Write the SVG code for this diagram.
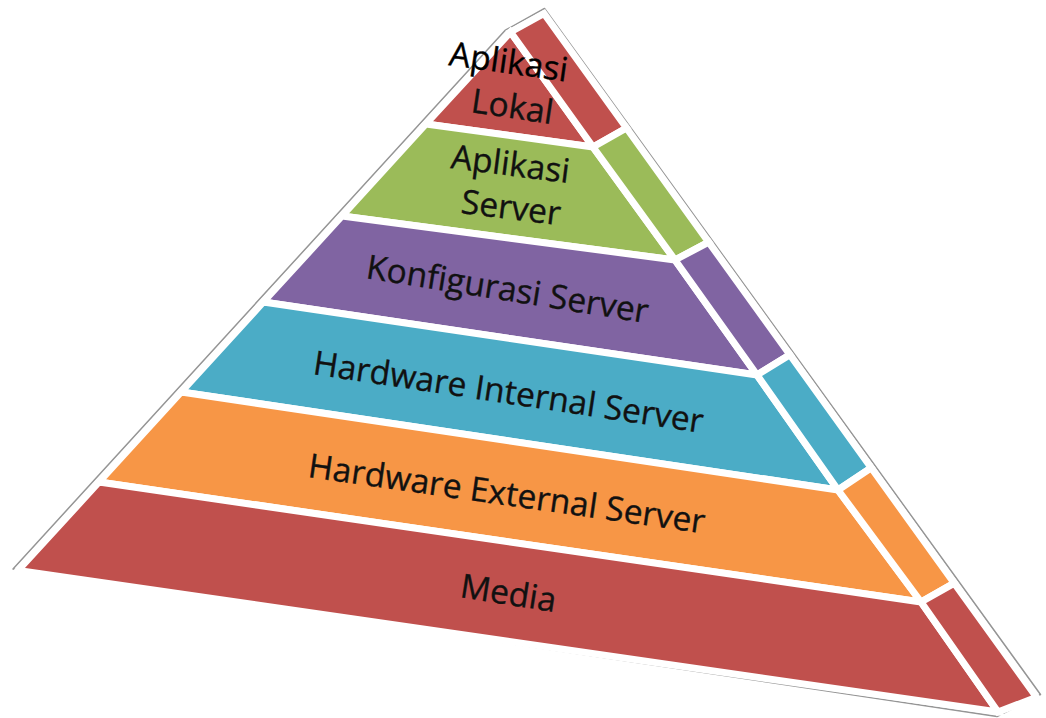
<svg xmlns="http://www.w3.org/2000/svg" width="1046" height="718" viewBox="0 0 1046 718">
<style>
.band{stroke:#ffffff;stroke-width:7;stroke-linejoin:miter}
.red{fill:#C0504D}
.green{fill:#9BBB59}
.purple{fill:#8064A2}
.cyan{fill:#4BACC6}
.orange{fill:#F79646}
.lbl{font-family:"Open Sans","Liberation Sans",sans-serif;font-size:33.5px;fill:#111111;stroke:#111111;stroke-width:0.35}
.outline{fill:#ffffff;stroke:#959595;stroke-width:1.5;stroke-linejoin:round}
</style>
<rect width="1046" height="718" fill="#ffffff"/>
<g id="outline">
<polygon class="outline" points="505,30.5 544.5,8.5 1040.5,694.5 997,716.5 13,569"/>
</g>
<g id="layer-aplikasi-lokal">
<polygon class="band red" points="510.5,32 593,147 425.9,124"/>
<polygon class="band red" points="510.5,32 544,13.5 626.5,128 593,147"/>
</g>
<g id="layer-aplikasi-server">
<polygon class="band green" points="425.9,124 593,147 675,260 342,216"/>
<polygon class="band green" points="593,147 626.5,128 708.7,242.1 675,260"/>
</g>
<g id="layer-konfigurasi-server">
<polygon class="band purple" points="342,216 675,260 757,375 263.3,302"/>
<polygon class="band purple" points="675,260 708.7,242.1 789.9,354.8 757,375"/>
</g>
<g id="layer-hardware-internal">
<polygon class="band cyan" points="263.3,302 757,375 838,490 181.2,392"/>
<polygon class="band cyan" points="757,375 789.9,354.8 871.2,467.8 838,490"/>
</g>
<g id="layer-hardware-external">
<polygon class="band orange" points="181.2,392 838,490 921,602 99,482"/>
<polygon class="band orange" points="838,490 871.2,467.8 954.3,583.1 921,602"/>
</g>
<g id="layer-media">
<polygon class="band red" points="99,482 921,602 998,712 18,570.5"/>
<polygon class="band red" points="921,602 954.3,583.1 1036.5,697.3 998,712"/>
</g>
<g id="labels">
<text class="lbl" x="448" y="65" transform="rotate(8 448 65)" style="fill:#000;stroke:#000">Aplikasi</text>
<text class="lbl" x="470" y="112" transform="rotate(8.5 470 112)">Lokal</text>
<text class="lbl" x="450" y="168" transform="rotate(7.3 450 168)">Aplikasi</text>
<text class="lbl" x="460" y="213" transform="rotate(7 460 213)">Server</text>
<text class="lbl" x="365" y="278" transform="rotate(9.1 365 278)">Konfigurasi Server</text>
<text class="lbl" x="312" y="374" transform="rotate(8.6 312 374)">Hardware Internal Server</text>
<text class="lbl" x="307" y="477" transform="rotate(8.1 307 477)">Hardware External Server</text>
<text class="lbl" x="459" y="597" transform="rotate(9 459 597)">Media</text>
</g>
</svg>
